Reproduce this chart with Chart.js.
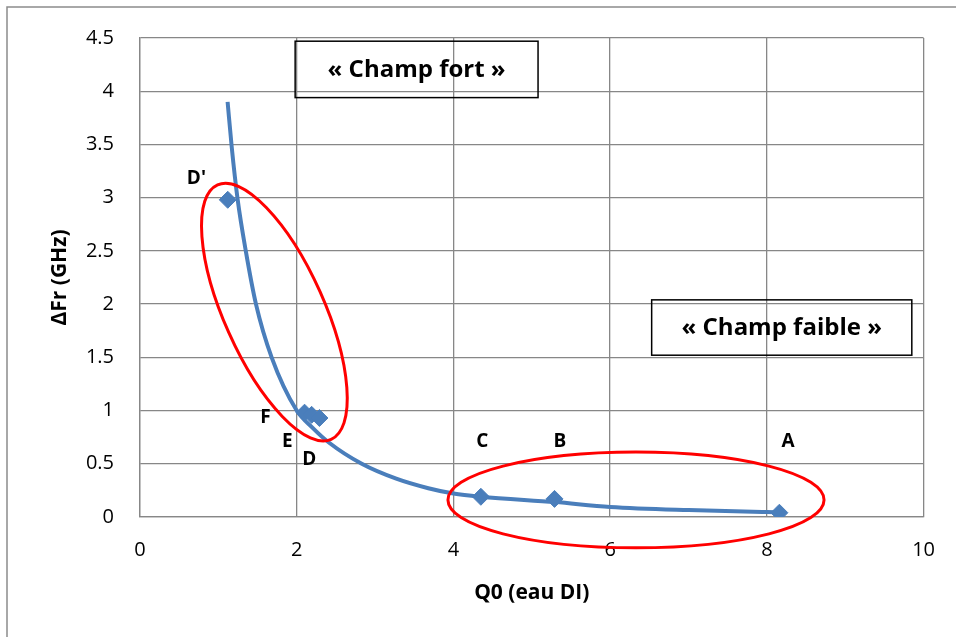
<!DOCTYPE html>
<html>
<head>
<meta charset="utf-8">
<script src="https://cdn.jsdelivr.net/npm/chart.js@4"></script>
<style>
    html, body { margin: 0; padding: 0; background: #ffffff; }
    #wrap { width: 956px; height: 637px; }
</style>
</head>
<body>
<div id="wrap"><canvas id="chart" width="956" height="637"></canvas></div>
<script>
// 測定点（Q0 と ΔFr）
const pointNames = ["D'", 'F', 'E', 'D', 'C', 'B', 'A'];
const q0Values = [1.12, 2.10, 2.19, 2.29, 4.35, 5.29, 8.16];
const frValues = [2.98, 0.98, 0.96, 0.93, 0.19, 0.17, 0.04];

// ラベル位置（データ単位）
const labelQ0 = [0.72, 1.60, 1.88, 2.16, 4.37, 5.36, 8.27];
const labelFr = [3.18, 0.93, 0.71, 0.54, 0.71, 0.71, 0.71];

// 近似曲線（図から読み取った点）
const trendQ0 = [1.118, 1.17, 1.245, 1.35, 1.48, 1.68, 2.0, 2.2, 2.41, 2.83, 3.27, 3.68, 4.0, 4.35, 5.3, 6.0, 7.0, 8.0, 8.16];
const trendFr = [3.90, 3.48, 2.99, 2.50, 2.00, 1.50, 1.00, 0.84, 0.70, 0.50, 0.36, 0.27, 0.22, 0.19, 0.14, 0.095, 0.065, 0.047, 0.045];

// 軸目盛り
const xTicks = [0, 2, 4, 6, 8, 10];
const yTicks = [0, 0.5, 1, 1.5, 2, 2.5, 3, 3.5, 4, 4.5];

// 注記（枠と楕円）
const boxTexts = ['« Champ fort »', '« Champ faible »'];
const boxQ0 = [[1.98, 5.08], [6.53, 9.85]];
const boxFr = [[4.47, 3.94], [2.04, 1.52]];
const strongEllipseQ0 = [0.99, 2.44];
const strongEllipseFr = [3.12, 0.73];
const weakEllipseQ0 = [3.93, 8.73];
const weakEllipseFr = [-0.29, 0.61];

const BLUE = '#4A7EBB';
const GRID = '#878787';

/**
 * 外枠（左と上の線）
 */
const framePlugin = {
    id: 'frame',
    beforeDraw: (chart) => {
        const ctx = chart.ctx;
        ctx.save();
        ctx.strokeStyle = '#8c8c8c';
        ctx.lineWidth = 1.5;
        ctx.beginPath();
        ctx.moveTo(7, 637);
        ctx.lineTo(7, 7);
        ctx.lineTo(956, 7);
        ctx.stroke();
        ctx.restore();
    },
};

/**
 * 点ラベル・枠・楕円を描画
 */
const annotationPlugin = {
    id: 'annotations',
    afterDatasetsDraw: (chart) => {
        const ctx = chart.ctx;
        const xs = chart.scales.x;
        const ys = chart.scales.y;
        ctx.save();

        // 楕円（強電場）: 長軸の端点から計算
        const x1 = xs.getPixelForValue(strongEllipseQ0[0]);
        const y1 = ys.getPixelForValue(strongEllipseFr[0]);
        const x2 = xs.getPixelForValue(strongEllipseQ0[1]);
        const y2 = ys.getPixelForValue(strongEllipseFr[1]);
        const major = Math.hypot(x2 - x1, y2 - y1) / 2;
        ctx.strokeStyle = '#FF0000';
        ctx.lineWidth = 3;
        ctx.beginPath();
        ctx.ellipse((x1 + x2) / 2, (y1 + y2) / 2, major, 50, Math.atan2(y2 - y1, x2 - x1), 0, Math.PI * 2);
        ctx.stroke();

        // 楕円（弱電場）
        const l = xs.getPixelForValue(weakEllipseQ0[0]);
        const r = xs.getPixelForValue(weakEllipseQ0[1]);
        const t = ys.getPixelForValue(weakEllipseFr[1]);
        const b = ys.getPixelForValue(weakEllipseFr[0]);
        ctx.beginPath();
        ctx.ellipse((l + r) / 2, (t + b) / 2, (r - l) / 2, (b - t) / 2, 0, 0, Math.PI * 2);
        ctx.stroke();

        // 点ラベル
        ctx.fillStyle = '#000000';
        ctx.font = "bold 19px 'Open Sans'";
        ctx.textAlign = 'center';
        ctx.textBaseline = 'middle';
        pointNames.forEach((name, i) => {
            ctx.fillText(name, xs.getPixelForValue(labelQ0[i]), ys.getPixelForValue(labelFr[i]));
        });

        // 枠付きテキスト
        ctx.strokeStyle = '#000000';
        ctx.lineWidth = 1.5;
        ctx.font = "bold 24px 'Open Sans'";
        boxTexts.forEach((text, i) => {
            const bl = xs.getPixelForValue(boxQ0[i][0]);
            const br = xs.getPixelForValue(boxQ0[i][1]);
            const bt = ys.getPixelForValue(boxFr[i][0]);
            const bb = ys.getPixelForValue(boxFr[i][1]);
            ctx.strokeRect(bl, bt, br - bl, bb - bt);
            ctx.fillText(text, (bl + br) / 2, (bt + bb) / 2 + 1);
        });

        ctx.restore();
    },
};

const ctx = document.getElementById('chart').getContext('2d');
new Chart(ctx, {
    type: 'scatter',
    data: {
        datasets: [
            {
                label: 'Mesures',
                data: q0Values.map((q, i) => ({ x: q, y: frValues[i] })),
                pointStyle: 'rectRot',
                pointRadius: 8.5,
                pointBackgroundColor: BLUE,
                pointBorderColor: BLUE,
                pointBorderWidth: 1,
                showLine: false,
            },
            {
                label: 'Tendance',
                data: trendQ0.map((q, i) => ({ x: q, y: trendFr[i] })),
                showLine: true,
                borderColor: BLUE,
                borderWidth: 4,
                pointRadius: 0,
                cubicInterpolationMode: 'monotone',
                fill: false,
            },
        ],
    },
    options: {
        responsive: false,
        animation: false,
        layout: { padding: { top: 36, right: 29, left: 0, bottom: 0 } },
        plugins: {
            legend: { display: false },
            tooltip: { enabled: false },
        },
        scales: {
            x: {
                type: 'linear',
                min: 0,
                max: 10,
                afterFit: (scale) => { scale.height = 120; },
                afterBuildTicks: (scale) => { scale.ticks = xTicks.map((v) => ({ value: v })); },
                grid: { color: GRID, lineWidth: 1.3, drawTicks: false },
                border: { color: GRID, width: 1.3 },
                ticks: {
                    padding: 21,
                    color: '#000000',
                    font: { family: "'Open Sans'", size: 20 },
                    callback: (value) => String(value),
                },
                title: {
                    display: true,
                    text: 'Q0 (eau DI)',
                    color: '#000000',
                    font: { family: "'Open Sans'", size: 21, weight: 'bold' },
                    padding: { top: 0, bottom: 31 },
                },
            },
            y: {
                type: 'linear',
                min: 0,
                max: 4.5,
                afterFit: (scale) => { scale.width = 140; },
                afterBuildTicks: (scale) => { scale.ticks = yTicks.map((v) => ({ value: v })); },
                grid: { color: GRID, lineWidth: 1.3, drawTicks: false },
                border: { color: GRID, width: 1.3 },
                ticks: {
                    padding: 26,
                    color: '#000000',
                    font: { family: "'Open Sans'", size: 20 },
                    callback: (value) => String(value),
                },
                title: {
                    display: true,
                    text: 'ΔFr (GHz)',
                    color: '#000000',
                    font: { family: "'Open Sans'", size: 21, weight: 'bold' },
                    padding: { top: 47, bottom: 0 },
                },
            },
        },
    },
    plugins: [framePlugin, annotationPlugin],
});
</script>
</body>
</html>
